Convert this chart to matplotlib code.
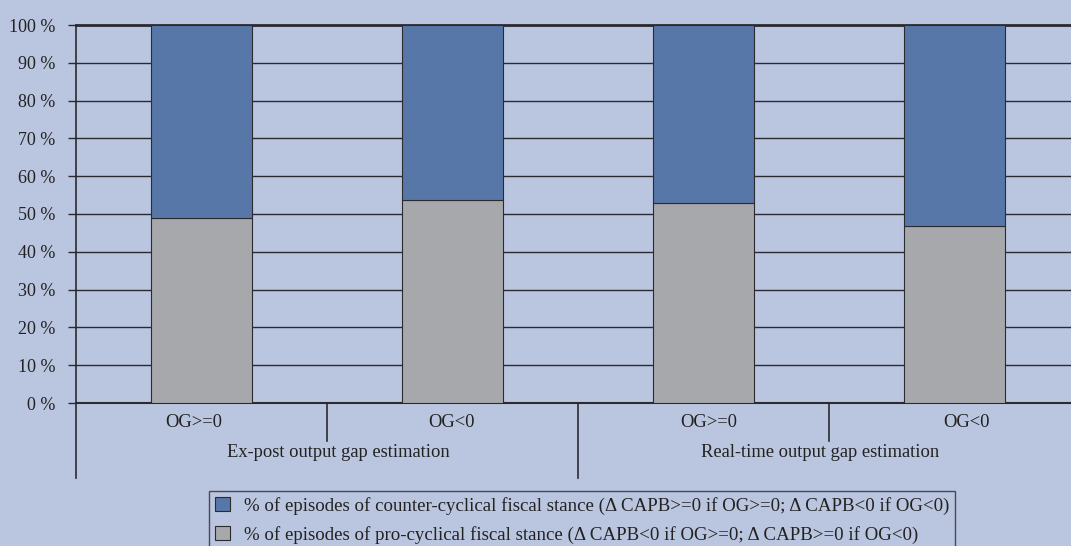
import matplotlib.pyplot as plt
import matplotlib.transforms as mtransforms
from matplotlib.patches import Patch

# ----------------------------------------------------
# Données
# ----------------------------------------------------
categories = ["OG>=0", "OG<0", "OG>=0", "OG<0"]
groups = ["Ex-post output gap estimation", "Real-time output gap estimation"]
pro_cyclical = [49.0, 53.7, 52.8, 46.7]
counter_cyclical = [100 - v for v in pro_cyclical]
yticks = list(range(0, 101, 10))
legend_labels = [
    "% of episodes of counter-cyclical fiscal stance (\u0394 CAPB>=0 if OG>=0; \u0394 CAPB<0 if OG<0)",
    "% of episodes of pro-cyclical fiscal stance (\u0394 CAPB<0 if OG>=0; \u0394 CAPB>=0 if OG<0)",
]

BG = "#bac5df"
BLUE = "#5877a9"
GREY = "#a7a8ab"
DARK = "#2b2b2f"
TXT = "#222222"

plt.rcParams["font.family"] = ["Liberation Serif", "DejaVu Serif"]

fig = plt.figure(figsize=(10.71, 5.46), dpi=100, facecolor=BG)
ax = fig.add_axes([76 / 1071, 1 - 403 / 546, 1004 / 1071, 378 / 546])
ax.set_facecolor(BG)

x = list(range(len(categories)))
ax.bar(x, pro_cyclical, width=0.4, color=GREY, edgecolor=DARK, linewidth=0.8, zorder=3)
ax.bar(x, counter_cyclical, bottom=pro_cyclical, width=0.4, color=BLUE,
       edgecolor=DARK, linewidth=0.8, zorder=3)

ax.set_xlim(-0.5, 3.5)
ax.set_ylim(0, 100)
ax.set_yticks(yticks)
ax.set_yticklabels([f"{t} %" for t in yticks], fontsize=13, color=TXT)
ax.set_xticks([])
ax.tick_params(axis="y", length=6, width=1, color=DARK, pad=9)
ax.yaxis.grid(True, color=DARK, linewidth=1, zorder=0)
ax.set_axisbelow(True)

ax.spines["right"].set_visible(False)
ax.spines["left"].set_color(DARK)
ax.spines["left"].set_linewidth(1.2)
ax.spines["bottom"].set_color(DARK)
ax.spines["bottom"].set_linewidth(1.5)
ax.spines["top"].set_color(DARK)
ax.spines["top"].set_linewidth(2)

# étiquettes des catégories et groupes sous l'axe (légers décalages comme l'original)
trans = mtransforms.blended_transform_factory(ax.transData, ax.transAxes)
for xi, lab in zip(x, categories):
    ax.text(xi * 1.027 - 0.032, -0.052, lab, transform=trans, ha="center",
            va="center", fontsize=13.3, color=TXT)
for gi, (g, shift) in enumerate(zip(groups, [0.044, -0.036])):
    ax.text(2 * gi + 0.5 + shift, -0.13, g, transform=trans, ha="center",
            va="center", fontsize=13.3, color=TXT)

# séparateurs verticaux
for xs, depth in [(-0.5, -0.198), (0.5, -0.1), (1.5, -0.198), (2.5, -0.1)]:
    ax.plot([xs, xs], [0, depth], transform=trans, color=DARK, linewidth=1.2,
            clip_on=False)

handles = [Patch(facecolor=BLUE, edgecolor=DARK, linewidth=0.8),
           Patch(facecolor=GREY, edgecolor=DARK, linewidth=0.8)]
leg = fig.legend(handles, legend_labels, loc="upper left",
                 bbox_to_anchor=(209 / 1071, 1 - 491 / 546), fontsize=13.6,
                 frameon=True, fancybox=False, facecolor=BG, edgecolor=DARK,
                 handlelength=0.8, handleheight=0.8, handletextpad=0.75,
                 borderpad=0.3, labelspacing=0.6, borderaxespad=0)
leg.get_frame().set_linewidth(1)
for t in leg.get_texts():
    t.set_color(TXT)

plt.savefig("out.png", dpi=100, facecolor=BG)
